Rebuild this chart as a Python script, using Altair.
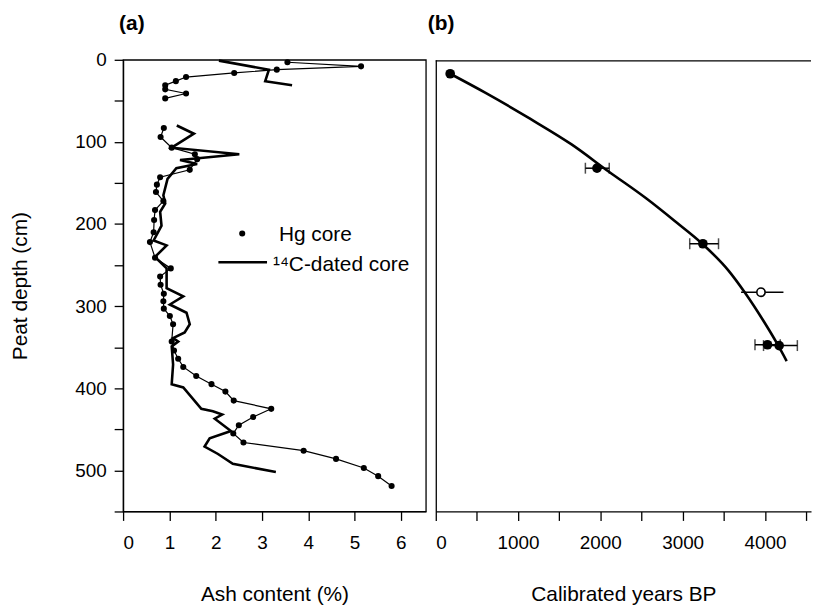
import altair as alt
import pandas as pd

# ---------------- Panel (a): ash content profiles ----------------
hg_depth_1 = [3, 8, 12, 16, 21, 26, 31, 36, 41, 47]
hg_ash_1 = [3.55, 5.14, 3.32, 2.40, 1.36, 1.14, 0.91, 0.91, 1.36, 0.91]

hg_depth_2 = [83, 94, 107, 115, 121, 134, 143, 152, 161, 172, 183, 195, 210, 222, 241,
              254, 264, 274, 285, 294, 303, 312, 322, 343, 354, 364, 374, 385, 395, 404,
              415, 425, 435, 445, 455, 466, 476, 486, 497, 507, 519]
hg_ash_2 = [0.88, 0.81, 1.05, 1.55, 1.60, 1.44, 0.80, 0.73, 0.71, 0.87, 0.69, 0.67, 0.66, 0.58, 0.69,
            1.03, 0.80, 0.81, 0.88, 0.87, 0.88, 1.01, 1.08, 1.05, 1.10, 1.19, 1.30, 1.58, 1.91, 2.21,
            2.39, 3.20, 2.81, 2.50, 2.38, 2.60, 3.90, 4.60, 5.20, 5.51, 5.80]

c14_depth_1 = [1, 12, 26, 31]
c14_ash_1 = [2.07, 3.15, 3.07, 3.65]

c14_depth_2 = [80, 90, 107, 115, 122, 127, 132, 145, 165, 175, 185, 202, 220, 226, 240,
               254, 278, 288, 298, 308, 322, 332, 339, 343, 349, 371, 395, 399, 425, 428,
               432, 437, 452, 461, 471, 480, 492, 502]
c14_ash_2 = [1.16, 1.53, 1.05, 2.51, 1.23, 1.60, 1.15, 0.96, 0.87, 0.91, 0.80, 0.83, 0.66, 0.94, 0.69,
             0.94, 0.94, 1.30, 1.01, 1.37, 1.44, 1.33, 1.08, 1.19, 1.05, 1.08, 1.05, 1.30, 1.69, 1.94,
             2.14, 1.98, 2.33, 1.87, 1.76, 2.05, 2.37, 3.30]

ash_ticks = [0, 1, 2, 3, 4, 5, 6]
depth_ticks = list(range(0, 551, 50))
legend_labels = ["Hg core", "\u00b9\u2074C-dated core"]
panel_labels = ["(a)", "(b)"]

# ---------------- Panel (b): age-depth model ----------------
date_years = [175, 1959, 3246, 4031, 4173]
date_depth = [17, 132, 224, 347, 348]
err_depth = [132, 224, 347, 348]
err_lo = [1818, 3086, 3879, 3983]
err_hi = [2108, 3436, 4186, 4394]
open_years = [3952]
open_depth = [283]
open_lo = [3710]
open_hi = [4225]
curve_years = [175, 600, 1150, 1650, 2100, 2560, 2900, 3250, 3560, 3760, 3970, 4150, 4265]
curve_depth = [17, 40, 72, 103, 136, 169, 196, 225, 257, 284, 316, 346, 367]
year_ticks = list(range(0, 4501, 500))

FONT = "Liberation Sans"


def segs(depths_list, ash_list):
    rows = []
    for s, (ds, As) in enumerate(zip(depths_list, ash_list)):
        for i, (d, a) in enumerate(zip(ds, As)):
            rows.append({"seg": s, "idx": i, "depth": d, "ash": a})
    return pd.DataFrame(rows)


hg = segs([hg_depth_1, hg_depth_2], [hg_ash_1, hg_ash_2])
c14 = segs([c14_depth_1, c14_depth_2], [c14_ash_1, c14_ash_2])

xa = alt.X("ash:Q", scale=alt.Scale(domain=[0, 6.54], nice=False, zero=False),
           axis=alt.Axis(values=ash_ticks, format="d", title="Ash content (%)"))
ya = alt.Y("depth:Q", scale=alt.Scale(domain=[0, 550], reverse=True, nice=False, zero=False),
           axis=alt.Axis(values=depth_ticks, format="d",
                         labelExpr="datum.value % 100 == 0 ? datum.label : ''",
                         title="Peat depth (cm)", titlePadding=45, labelPadding=8))

hg_line = alt.Chart(hg).mark_line(color="black", strokeWidth=1.2).encode(
    x=xa, y=ya, detail="seg:N", order="idx:Q")
hg_pts = alt.Chart(hg).mark_circle(color="black", size=38, opacity=1).encode(x=xa, y=ya)
c14_line = alt.Chart(c14).mark_line(color="black", strokeWidth=2.6).encode(
    x=xa, y=ya, detail="seg:N", order="idx:Q")

leg_df1 = pd.DataFrame({"label": [legend_labels[0]]})
leg_df2 = pd.DataFrame({"label": [legend_labels[1]]})
leg_dot = alt.Chart(leg_df1).mark_circle(color="black", size=38, opacity=1).encode(
    x=alt.value(120), y=alt.value(175))
leg_txt1 = alt.Chart(leg_df1).mark_text(align="left", baseline="middle", font=FONT,
                                        fontSize=21, color="black").encode(
    text="label:N", x=alt.value(157), y=alt.value(177))
leg_line = alt.Chart(leg_df2).mark_rule(color="black", strokeWidth=2.6).encode(
    x=alt.value(96), x2=alt.value(145), y=alt.value(204))
leg_txt2 = alt.Chart(leg_df2).mark_text(align="left", baseline="middle", font=FONT,
                                        fontSize=21, color="black").encode(
    text="label:N", x=alt.value(151), y=alt.value(207))


def panel_title(label, dx):
    return alt.Chart(pd.DataFrame({"label": [label]})).mark_text(
        align="left", baseline="middle", font=FONT, fontSize=21, fontWeight="bold",
        color="black").encode(text="label:N", x=alt.value(dx), y=alt.value(-36))


panel_a = alt.layer(c14_line, hg_line, hg_pts, leg_dot, leg_txt1, leg_line, leg_txt2,
                    panel_title(panel_labels[0], -4)).properties(width=305, height=455)

# ---------------- Panel (b) ----------------
dates = pd.DataFrame({"years": date_years, "depth": date_depth})
errs = pd.DataFrame({"depth": err_depth, "lo": err_lo, "hi": err_hi})
caps = pd.DataFrame({"depth": err_depth + err_depth, "years": err_lo + err_hi})
opn = pd.DataFrame({"years": open_years, "depth": open_depth, "lo": open_lo, "hi": open_hi})
curve = pd.DataFrame({"years": curve_years, "depth": curve_depth})

xb_scale = alt.Scale(domain=[0, 4560], nice=False, zero=False)
xb = alt.X("years:Q", scale=xb_scale,
           axis=alt.Axis(values=year_ticks, format="d",
                         labelExpr="datum.value % 1000 == 0 ? datum.label : ''",
                         title="Calibrated years BP"))
yb_scale = alt.Scale(domain=[0, 550], reverse=True, nice=False, zero=False)
yb = alt.Y("depth:Q", scale=yb_scale,
           axis=alt.Axis(title=None, labels=False, ticks=False))

curve_line = alt.Chart(curve).mark_line(color="black", strokeWidth=2.6,
                                        interpolate="monotone").encode(x=xb, y=yb)
err_rule = alt.Chart(errs).mark_rule(color="black", strokeWidth=1.5).encode(
    x=alt.X("lo:Q", scale=xb_scale), x2="hi:Q", y=alt.Y("depth:Q", scale=yb_scale))
err_caps = alt.Chart(caps).mark_tick(color="black", orient="vertical", size=11,
                                     thickness=1.5).encode(x=xb, y=yb)
open_rule = alt.Chart(opn).mark_rule(color="black", strokeWidth=1.5).encode(
    x=alt.X("lo:Q", scale=xb_scale), x2="hi:Q", y=alt.Y("depth:Q", scale=yb_scale))
open_pt = alt.Chart(opn).mark_point(shape="circle", filled=True, fill="white", stroke="black",
                                    strokeWidth=1.6, size=70, opacity=1).encode(x=xb, y=yb)
date_pts = alt.Chart(dates).mark_circle(color="black", size=95, opacity=1).encode(x=xb, y=yb)
top_border = alt.Chart(pd.DataFrame({"k": [0]})).mark_rule(color="black", strokeWidth=1.3).encode(
    x=alt.value(0), x2=alt.value(378), y=alt.value(1))

panel_b = alt.layer(curve_line, err_rule, err_caps, open_rule, open_pt, date_pts, top_border,
                    panel_title(panel_labels[1], -8)).properties(
    width=378, height=455, view=alt.ViewBackground(stroke="transparent"))

chart = alt.hconcat(panel_a, panel_b, spacing=0).configure(
    padding={"left": 8, "top": 10, "right": 0, "bottom": 0},
    font=FONT,
).configure_view(
    stroke="black", strokeWidth=1.3
).configure_axis(
    grid=False, domainColor="black", domainWidth=1.3, tickColor="black", tickWidth=1.3,
    tickSize=9, labelFont=FONT, labelFontSize=19, labelColor="black",
    titleFont=FONT, titleFontSize=21, titleFontWeight="normal", titleColor="black",
).configure_axisX(
    labelPadding=13, titlePadding=32
)

chart.save("out.html", embed_options={"renderer": "svg", "actions": False})
